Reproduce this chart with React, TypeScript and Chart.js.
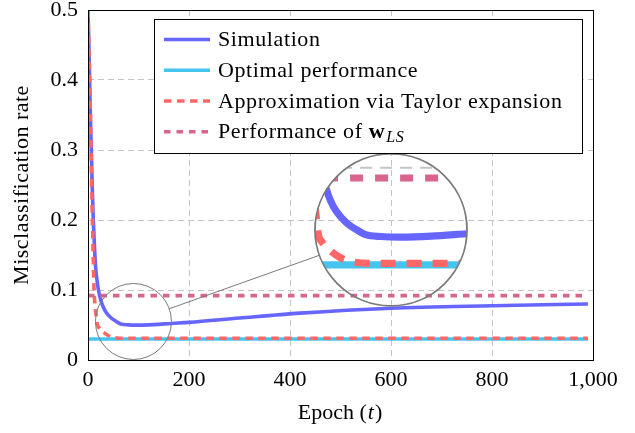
import React, { useEffect, useRef } from 'react';
import { Chart, registerables } from 'chart.js';

Chart.register(...registerables);

// ---- data ----
const simEpochs = [0, 2, 4, 6.5, 8.5, 10.5, 13, 15, 18, 22, 26, 30, 36, 46, 56, 65, 80, 100, 130, 165, 200, 300, 420, 600, 800, 990];
const simValues = [0.5, 0.44, 0.371, 0.3, 0.245, 0.2, 0.16, 0.133, 0.113, 0.095, 0.084, 0.076, 0.068, 0.06, 0.055, 0.0515, 0.0502, 0.0498, 0.0505, 0.0522, 0.0538, 0.06, 0.067, 0.074, 0.0775, 0.08];

const optimalEpochs = [0, 990];
const optimalValues = [0.03, 0.03];

const taylorEpochs = [0, 2, 4, 6, 8, 10, 12, 14, 16, 18, 22, 30, 40, 50, 70, 990];
const taylorValues = [0.5, 0.44, 0.38, 0.3, 0.225, 0.16, 0.1, 0.078, 0.064, 0.052, 0.046, 0.04, 0.035, 0.0324, 0.031, 0.031];

const lsEpochs = [0, 990];
const lsValues = [0.092, 0.092];

const seriesLabels = ['Simulation', 'Optimal performance', 'Approximation via Taylor expansion', 'Performance of '];
const xTitle = ['Epoch (', 't', ')'];
const yTitle = 'Misclassification rate';

const X_MIN = 0, X_MAX = 1000, X_STEP = 200;
const Y_MIN = 0, Y_MAX = 0.5, Y_STEP = 0.1;

// spy (magnifier): source centre and target centre in data units
const spySource = [90, 0.055];
const spyTarget = [600, 0.186];

// ---- styles ----
const FONT = "'Liberation Serif', 'Times New Roman', serif";
const FS = 22;
const COLORS = ['#6666ff', '#44c4ee', '#ff6666', '#d8668c'];
const DASHES: number[][] = [[], [], [7.5, 5.5], [6.5, 6]];
const LW = 3.6;
const SPY_R = 38;
const SPY_MAG = 2;

const toPts = (xs: number[], ys: number[]) => xs.map((x, i) => ({ x, y: ys[i] }));

const framePlugin = {
  id: 'frame',
  afterDatasetsDraw(chart: any) {
    const { ctx, chartArea: a } = chart;
    ctx.save();
    ctx.strokeStyle = '#000';
    ctx.lineWidth = 1;
    ctx.setLineDash([]);
    ctx.strokeRect(Math.round(a.left) + 0.5, Math.round(a.top) + 0.5, Math.round(a.right - a.left), Math.round(a.bottom - a.top));
    ctx.restore();
  },
};

const spyPlugin = {
  id: 'spy',
  afterDatasetsDraw(chart: any) {
    const { ctx, chartArea } = chart;
    const xs = chart.scales.x, ys = chart.scales.y;
    const sx = xs.getPixelForValue(spySource[0]);
    const sy = ys.getPixelForValue(spySource[1]);
    const tx = xs.getPixelForValue(spyTarget[0]);
    const ty = ys.getPixelForValue(spyTarget[1]);
    const R = SPY_R * SPY_MAG;

    ctx.save();
    ctx.beginPath();
    ctx.arc(tx, ty, R, 0, Math.PI * 2);
    ctx.clip();
    ctx.translate(tx, ty);
    ctx.scale(SPY_MAG, SPY_MAG);
    ctx.translate(-sx, -sy);
    ys.drawGrid(chartArea);
    xs.drawGrid(chartArea);
    const n = chart.data.datasets.length;
    for (let i = 0; i < n; i++) {
      const meta = chart.getDatasetMeta(i);
      meta.controller.draw();
    }
    ctx.restore();

    // circles + connector
    const dx = tx - sx, dy = ty - sy;
    const len = Math.hypot(dx, dy);
    const ux = dx / len, uy = dy / len;
    ctx.save();
    ctx.setLineDash([]);
    ctx.strokeStyle = '#7a7a7a';
    ctx.lineWidth = 1;
    ctx.beginPath();
    ctx.arc(sx, sy, SPY_R, 0, Math.PI * 2);
    ctx.stroke();
    ctx.beginPath();
    ctx.moveTo(sx + ux * SPY_R, sy + uy * SPY_R);
    ctx.lineTo(tx - ux * R, ty - uy * R);
    ctx.stroke();
    ctx.lineWidth = 1.8;
    ctx.beginPath();
    ctx.arc(tx, ty, R, 0, Math.PI * 2);
    ctx.stroke();
    ctx.restore();
  },
};

const legendPlugin = {
  id: 'customLegend',
  afterDraw(chart: any) {
    const { ctx } = chart;
    const box = { x: 154.5, y: 19.5, w: 428, h: 134 };
    const rows = [39.5, 70.3, 101, 131.7];
    ctx.save();
    ctx.fillStyle = '#fff';
    ctx.fillRect(box.x, box.y, box.w, box.h);
    ctx.strokeStyle = '#000';
    ctx.lineWidth = 1;
    ctx.setLineDash([]);
    ctx.strokeRect(box.x, box.y, box.w, box.h);
    chart.data.datasets.forEach((ds: any, i: number) => {
      const y = rows[i];
      ctx.save();
      ctx.strokeStyle = ds.borderColor;
      ctx.lineWidth = LW;
      ctx.setLineDash(ds.borderDash || []);
      ctx.beginPath();
      ctx.moveTo(164, y);
      ctx.lineTo(210, y);
      ctx.stroke();
      ctx.restore();
      ctx.fillStyle = '#000';
      ctx.textBaseline = 'middle';
      ctx.textAlign = 'left';
      (ctx as any).letterSpacing = '0.6px';
      ctx.font = `${FS}px ${FONT}`;
      ctx.fillText(ds.label, 218, y + 1);
      if (i === 3) {
        const w0 = ctx.measureText(ds.label).width;
        ctx.font = `bold ${FS}px ${FONT}`;
        ctx.fillText('w', 218 + w0, y + 1);
        const w1 = ctx.measureText('w').width;
        ctx.font = `italic ${Math.round(FS * 0.72)}px ${FONT}`;
        ctx.fillText('LS', 218 + w0 + w1 + 1, y + 6);
      }
      (ctx as any).letterSpacing = '0px';
    });
    ctx.restore();
  },
};

const titlesPlugin = {
  id: 'titles',
  afterDraw(chart: any) {
    const { ctx, chartArea: a } = chart;
    ctx.save();
    ctx.fillStyle = '#000';
    ctx.textBaseline = 'middle';
    // x title with italic t
    const parts = [
      { t: xTitle[0], f: `${FS}px ${FONT}` },
      { t: xTitle[1], f: `italic ${FS}px ${FONT}` },
      { t: xTitle[2], f: `${FS}px ${FONT}` },
    ];
    let total = 0;
    parts.forEach(p => { ctx.font = p.f; total += ctx.measureText(p.t).width + 1; });
    let x = (a.left + a.right) / 2 - total / 2;
    ctx.textAlign = 'left';
    parts.forEach(p => { ctx.font = p.f; ctx.fillText(p.t, x, 413); x += ctx.measureText(p.t).width + 1; });
    // y title
    ctx.translate(22, (a.top + a.bottom) / 2);
    ctx.rotate(-Math.PI / 2);
    ctx.textAlign = 'center';
    ctx.font = `${FS}px ${FONT}`;
    (ctx as any).letterSpacing = '0.5px';
    ctx.fillText(yTitle, 0, 0);
    ctx.restore();
  },
};

export default function App() {
  const ref = useRef<HTMLCanvasElement>(null);
  useEffect(() => {
    if (!ref.current) return;
    const series = [
      toPts(simEpochs, simValues),
      toPts(optimalEpochs, optimalValues),
      toPts(taylorEpochs, taylorValues),
      toPts(lsEpochs, lsValues),
    ];
    const chart = new Chart(ref.current, {
      type: 'line',
      data: {
        datasets: series.map((d, i) => ({
          label: seriesLabels[i],
          data: d,
          borderColor: COLORS[i],
          backgroundColor: COLORS[i],
          borderWidth: LW,
          borderDash: DASHES[i],
          borderCapStyle: 'butt',
          pointRadius: 0,
          fill: false,
          cubicInterpolationMode: 'monotone',
          order: 4 - i,
        })),
      },
      options: {
        animation: false,
        responsive: false,
        devicePixelRatio: 1,
        layout: { padding: { top: 10, right: 42, left: 0, bottom: 0 } },
        plugins: { legend: { display: false }, tooltip: { enabled: false } },
        scales: {
          x: {
            type: 'linear',
            min: X_MIN,
            max: X_MAX,
            ticks: { stepSize: X_STEP, color: '#000', font: { family: FONT, size: FS }, padding: 7, maxRotation: 0 },
            grid: { color: '#c4c4c4', lineWidth: 1, drawTicks: false },
            border: { display: false, dash: [6, 4] },
            afterFit: (s: any) => { s.height = 73; s.paddingLeft = 0; s.paddingRight = 0; },
          },
          y: {
            type: 'linear',
            min: Y_MIN,
            max: Y_MAX,
            ticks: { stepSize: Y_STEP, color: '#000', font: { family: FONT, size: FS }, padding: 10 },
            grid: { color: '#c4c4c4', lineWidth: 1, drawTicks: false },
            border: { display: false, dash: [6, 4] },
            afterFit: (s: any) => { s.width = 88; s.paddingTop = 0; s.paddingBottom = 0; },
          },
        },
      } as any,
      plugins: [framePlugin, spyPlugin, legendPlugin, titlesPlugin],
    });
    return () => chart.destroy();
  }, []);
  return (
    <div style={{ position: 'fixed', left: 0, top: 0, width: 635, height: 433, background: '#fff' }}>
      <canvas ref={ref} width={635} height={433} style={{ display: 'block', width: 635, height: 433 }} />
    </div>
  );
}
